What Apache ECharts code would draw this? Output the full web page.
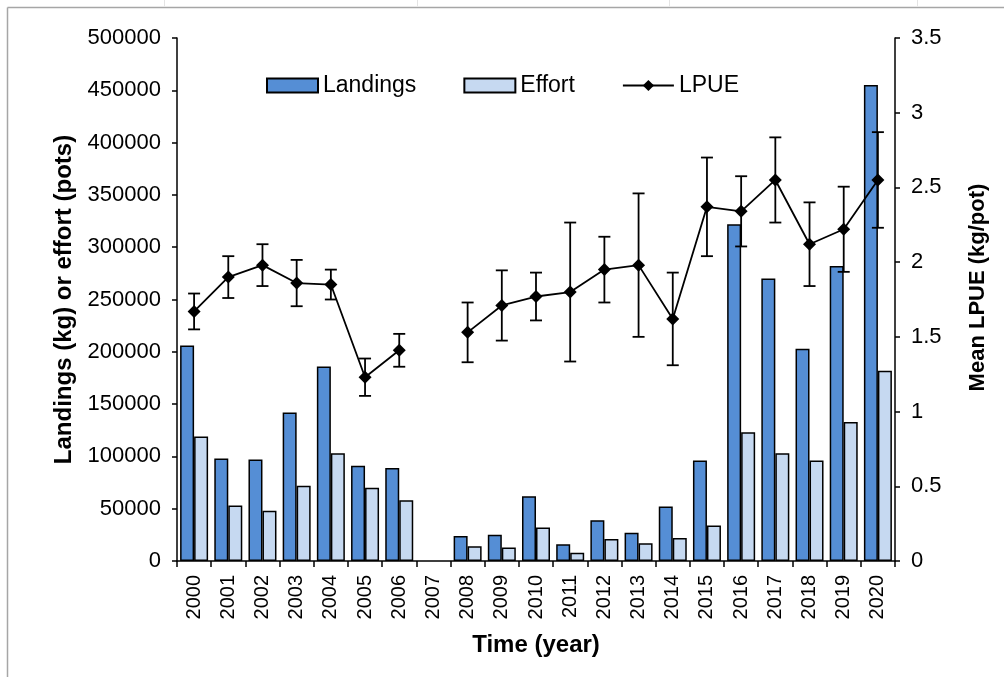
<!DOCTYPE html>
<html>
<head>
<meta charset="utf-8">
<script src="https://cdn.jsdelivr.net/npm/echarts@6/dist/echarts.min.js"></script>
<style>
html,body{margin:0;padding:0;background:#fff;}
#chart{width:1004px;height:677px;}
</style>
</head>
<body>
<div id="chart"></div>
<script>
const years = ['2000','2001','2002','2003','2004','2005','2006','2007','2008','2009','2010','2011','2012','2013','2014','2015','2016','2017','2018','2019','2020'];
const landings = [206000, 98000, 97000, 142000, 186000, 91000, 89000, null, 24000, 25000, 62000, 16000, 39000, 27000, 52000, 96000, 322000, 270000, 203000, 282000, 455000];
const effort = [119000, 53000, 48000, 72000, 103000, 70000, 58000, null, 14000, 13000, 32000, 8000, 21000, 17000, 22000, 34000, 123000, 103000, 96000, 133000, 182000];
const lpue = [1.67, 1.90, 1.98, 1.86, 1.85, 1.23, 1.41, null, 1.53, 1.71, 1.77, 1.80, 1.95, 1.98, 1.62, 2.37, 2.34, 2.55, 2.12, 2.22, 2.55];
const lpueErr = [0.12, 0.14, 0.14, 0.155, 0.10, 0.125, 0.11, null, 0.20, 0.235, 0.16, 0.465, 0.22, 0.48, 0.31, 0.33, 0.235, 0.285, 0.28, 0.285, 0.32];

const errData = [];
lpue.forEach((v, i) => {
  if (v != null && lpueErr[i] != null) errData.push([i, v - lpueErr[i], v + lpueErr[i]]);
});

const FONT = '"Liberation Sans", Arial, sans-serif';
const chart = echarts.init(document.getElementById('chart'), null, {renderer: 'canvas'});

chart.setOption({
  backgroundColor: '#fff',
  animation: false,
  textStyle: {fontFamily: FONT, color: '#000'},
  grid: {left: 177, right: 109, top: 38, bottom: 116, containLabel: false},
  legend: {
    left: 261, top: 69,
    itemWidth: 51, itemHeight: 14, itemGap: 47,
    textStyle: {fontFamily: FONT, fontSize: 23, color: '#000'},
    data: [{name: 'Landings', icon: 'rect'}, {name: 'Effort', icon: 'rect'}, {name: 'LPUE'}]
  },
  xAxis: {
    type: 'category',
    data: years,
    boundaryGap: true,
    name: 'Time (year)',
    nameLocation: 'middle',
    nameGap: 72,
    nameTextStyle: {fontFamily: FONT, fontSize: 24, fontWeight: 'bold', color: '#000'},
    axisLine: {lineStyle: {color: '#000', width: 1.5}},
    axisTick: {show: true, interval: 0, length: 6, lineStyle: {color: '#000', width: 1.5}},
    axisLabel: {rotate: 90, interval: 0, margin: 14, fontSize: 20, color: '#000', fontFamily: FONT},
    splitLine: {show: false}
  },
  yAxis: [
    {
      type: 'value', min: 0, max: 500000, interval: 50000,
      name: 'Landings (kg) or effort (pots)',
      nameLocation: 'middle', nameGap: 97,
      nameTextStyle: {fontFamily: FONT, fontSize: 24, fontWeight: 'bold', color: '#000'},
      axisLine: {show: true, lineStyle: {color: '#000', width: 1.5}},
      axisTick: {show: true, length: 5, lineStyle: {color: '#000', width: 1.5}},
      axisLabel: {margin: 16, fontSize: 22, color: '#000', fontFamily: FONT, formatter: v => String(v)},
      splitLine: {show: false}
    },
    {
      type: 'value', min: 0, max: 3.5, interval: 0.5,
      name: 'Mean LPUE (kg/pot)',
      nameLocation: 'middle', nameGap: 72,
      nameTextStyle: {fontFamily: FONT, fontSize: 22, fontWeight: 'bold', color: '#000', padding: [0, 0, 0, 24]},
      axisLine: {show: true, lineStyle: {color: '#000', width: 1.5}},
      axisTick: {show: true, length: 5, lineStyle: {color: '#000', width: 1.5}},
      axisLabel: {margin: 16, fontSize: 22, color: '#000', fontFamily: FONT},
      splitLine: {show: false}
    }
  ],
  series: [
    {
      name: 'Landings', type: 'bar', data: landings, barWidth: 14, barGap: '0%',
      itemStyle: {color: '#558ED5', borderColor: '#000', borderWidth: 1.5},
      z: 2
    },
    {
      name: 'Effort', type: 'bar', data: effort, barWidth: 14, barGap: '0%',
      itemStyle: {color: '#C6D9F1', borderColor: '#000', borderWidth: 1.5},
      z: 2
    },
    {
      name: 'LPUE', type: 'line', yAxisIndex: 1, data: lpue,
      connectNulls: false,
      symbol: 'diamond', symbolSize: 13,
      lineStyle: {color: '#000', width: 1.8},
      itemStyle: {color: '#000'},
      z: 5
    },
    {
      name: 'err', type: 'custom', yAxisIndex: 1, data: errData,
      z: 4,
      renderItem: function (params, api) {
        const x = api.value(0);
        const lo = api.coord([x, api.value(1)]);
        const hi = api.coord([x, api.value(2)]);
        const hw = 6;
        const style = {stroke: '#000', lineWidth: 1.8};
        return {
          type: 'group',
          children: [
            {type: 'line', shape: {x1: lo[0], y1: lo[1], x2: hi[0], y2: hi[1]}, style: style},
            {type: 'line', shape: {x1: hi[0] - hw, y1: hi[1], x2: hi[0] + hw, y2: hi[1]}, style: style},
            {type: 'line', shape: {x1: lo[0] - hw, y1: lo[1], x2: lo[0] + hw, y2: lo[1]}, style: style}
          ]
        };
      }
    }
  ],
  graphic: [
    {type: 'line', shape: {x1: 7.5, y1: 7.5, x2: 1004, y2: 7.5}, style: {stroke: '#a6a6a6', lineWidth: 1.5}},
    {type: 'line', shape: {x1: 7.5, y1: 7.5, x2: 7.5, y2: 677}, style: {stroke: '#a6a6a6', lineWidth: 1.5}},
    {type: 'line', shape: {x1: 164.5, y1: 0, x2: 164.5, y2: 6.5}, style: {stroke: '#e4e4e4', lineWidth: 1}},
    {type: 'line', shape: {x1: 417.5, y1: 0, x2: 417.5, y2: 6.5}, style: {stroke: '#e4e4e4', lineWidth: 1}},
    {type: 'line', shape: {x1: 669.5, y1: 0, x2: 669.5, y2: 6.5}, style: {stroke: '#e4e4e4', lineWidth: 1}},
    {type: 'line', shape: {x1: 917.5, y1: 0, x2: 917.5, y2: 6.5}, style: {stroke: '#e4e4e4', lineWidth: 1}}
  ]
});
</script>
</body>
</html>
